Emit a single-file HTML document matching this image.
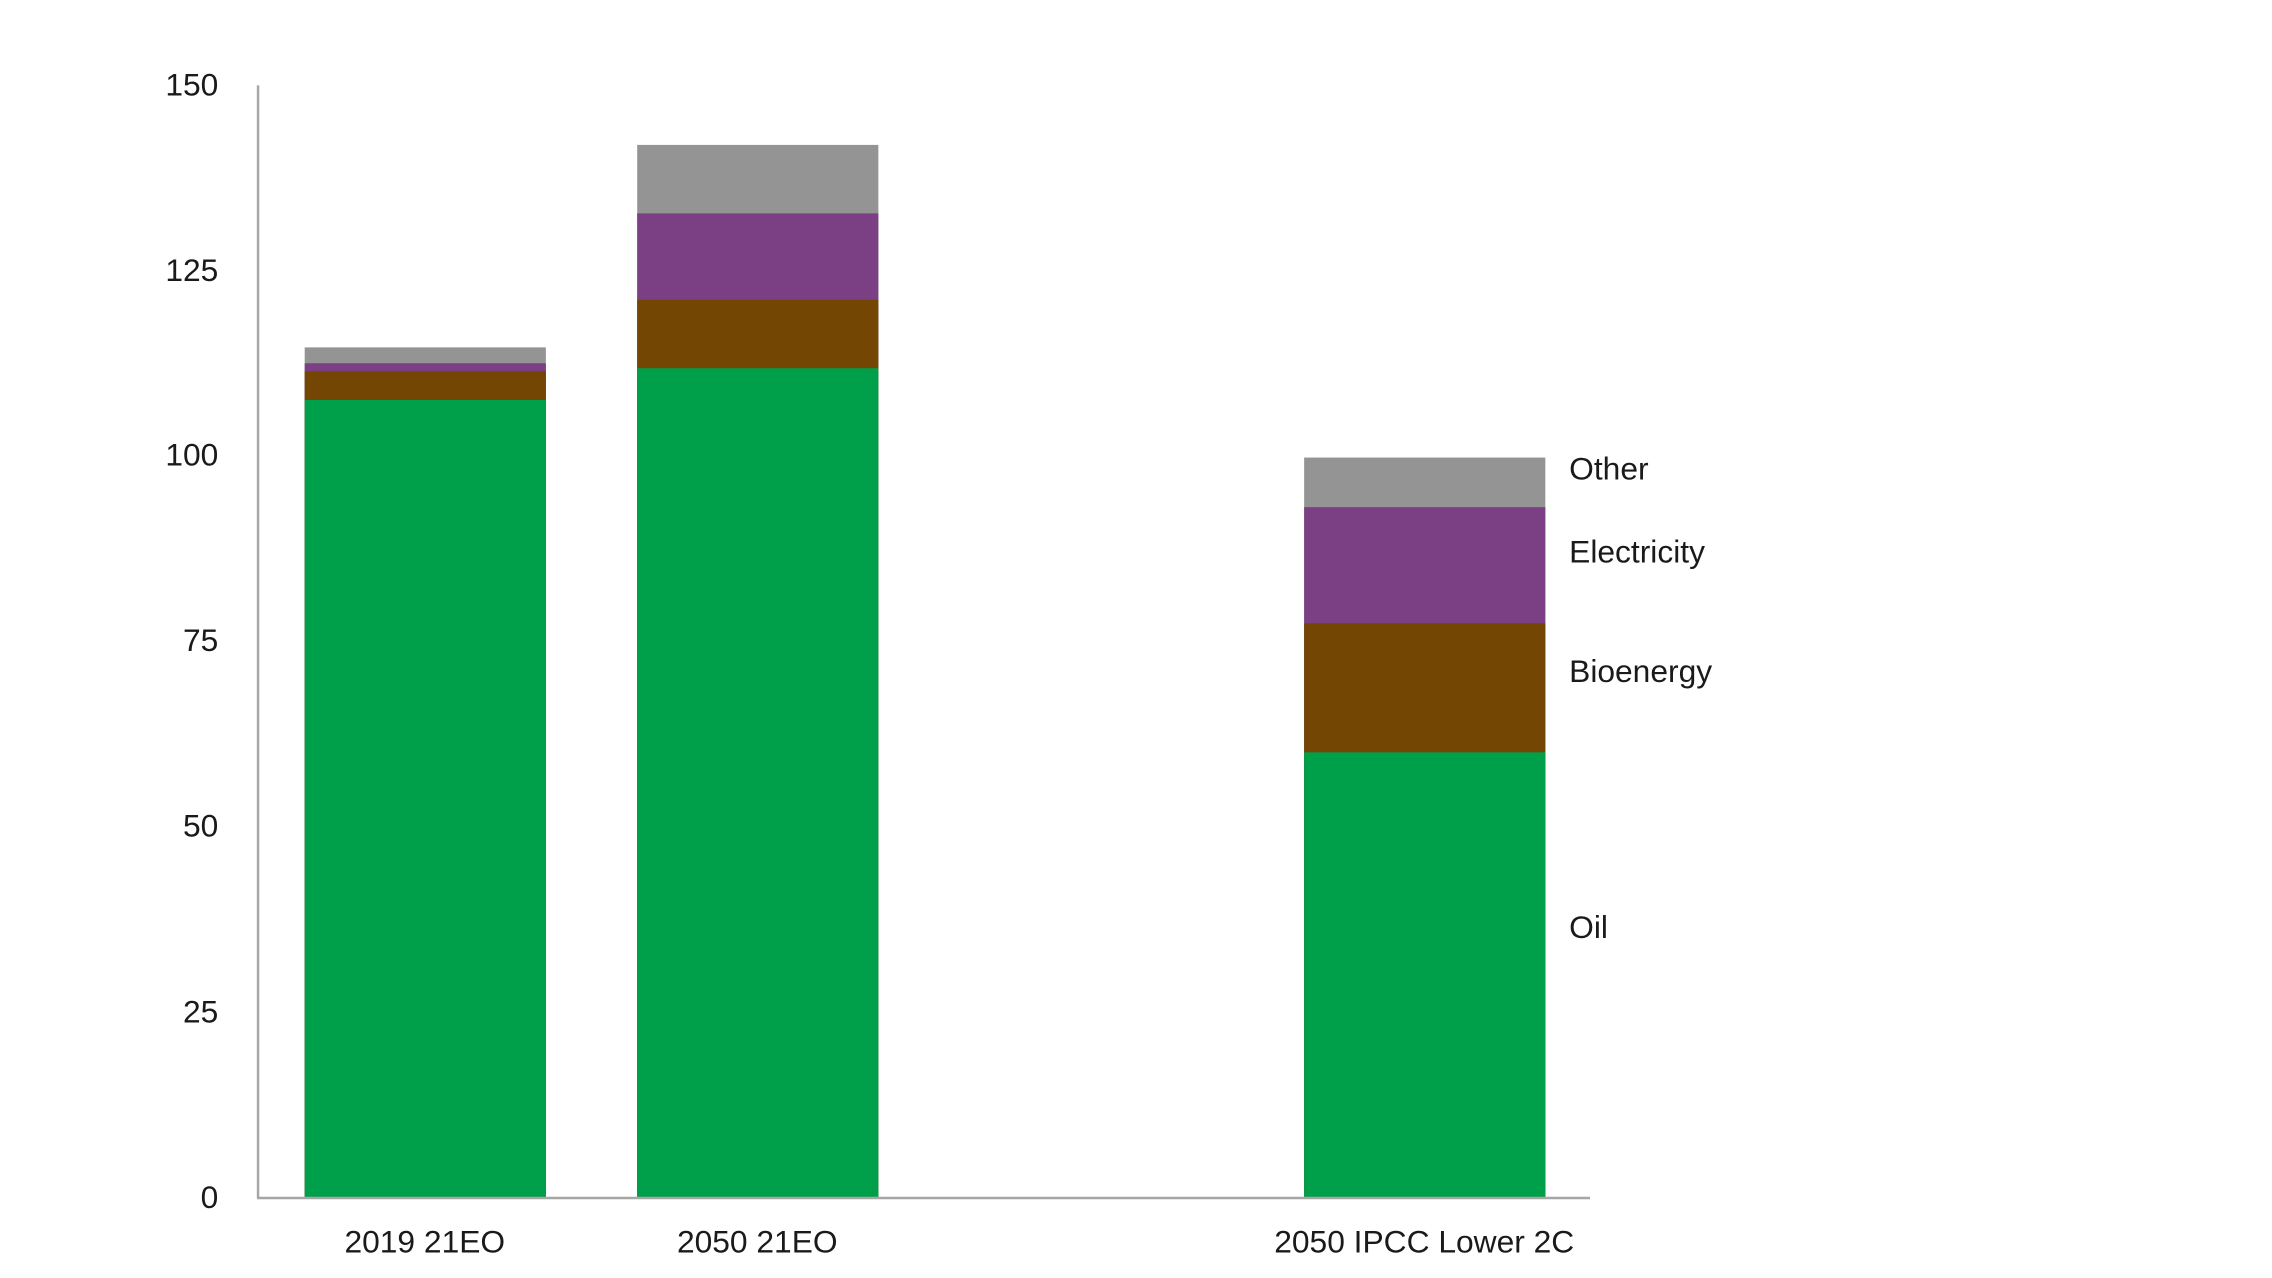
<!DOCTYPE html>
<html><head><style>
html,body{margin:0;padding:0;background:#fff;}
svg{display:block;}
text{font-family:"Liberation Sans",sans-serif;font-size:32px;fill:#1a1a1a;}
</style></head><body>
<svg width="2272" height="1278" viewBox="0 0 2272 1278">
<g transform="scale(0.9925)">
<!-- bar1 -->
<rect x="307" y="350" width="243" height="856" fill="#949494"/>
<rect x="307" y="366" width="243" height="840" fill="#7b4083"/>
<rect x="307" y="374" width="243" height="832" fill="#744603"/>
<rect x="307" y="403" width="243" height="803" fill="#00a04b"/>
<!-- bar2 -->
<rect x="642" y="146" width="243" height="1060" fill="#949494"/>
<rect x="642" y="215" width="243" height="991" fill="#7b4083"/>
<rect x="642" y="302" width="243" height="904" fill="#744603"/>
<rect x="642" y="371" width="243" height="835" fill="#00a04b"/>
<!-- bar3 -->
<rect x="1314" y="461" width="243" height="745" fill="#949494"/>
<rect x="1314" y="511" width="243" height="695" fill="#7b4083"/>
<rect x="1314" y="628" width="243" height="578" fill="#744603"/>
<rect x="1314" y="758" width="243" height="448" fill="#00a04b"/>
<!-- axes -->
<line x1="260" y1="86" x2="260" y2="1207" stroke="#a6a6a6" stroke-width="2.5"/>
<line x1="259" y1="1207" x2="1602" y2="1207" stroke="#a6a6a6" stroke-width="2.5"/>
<g text-anchor="end">
<text x="220" y="96">150</text>
<text x="220" y="283">125</text>
<text x="220" y="469">100</text>
<text x="220" y="656">75</text>
<text x="220" y="843">50</text>
<text x="220" y="1030">25</text>
<text x="220" y="1217">0</text>
</g>
<g text-anchor="middle">
<text x="428" y="1262">2019 21EO</text>
<text x="763" y="1262">2050 21EO</text>
<text x="1435" y="1262">2050 IPCC Lower 2C</text>
</g>
<text x="1581" y="483">Other</text>
<text x="1581" y="567">Electricity</text>
<text x="1581" y="687">Bioenergy</text>
<text x="1581" y="945">Oil</text>
</g>
</svg>
</body></html>
